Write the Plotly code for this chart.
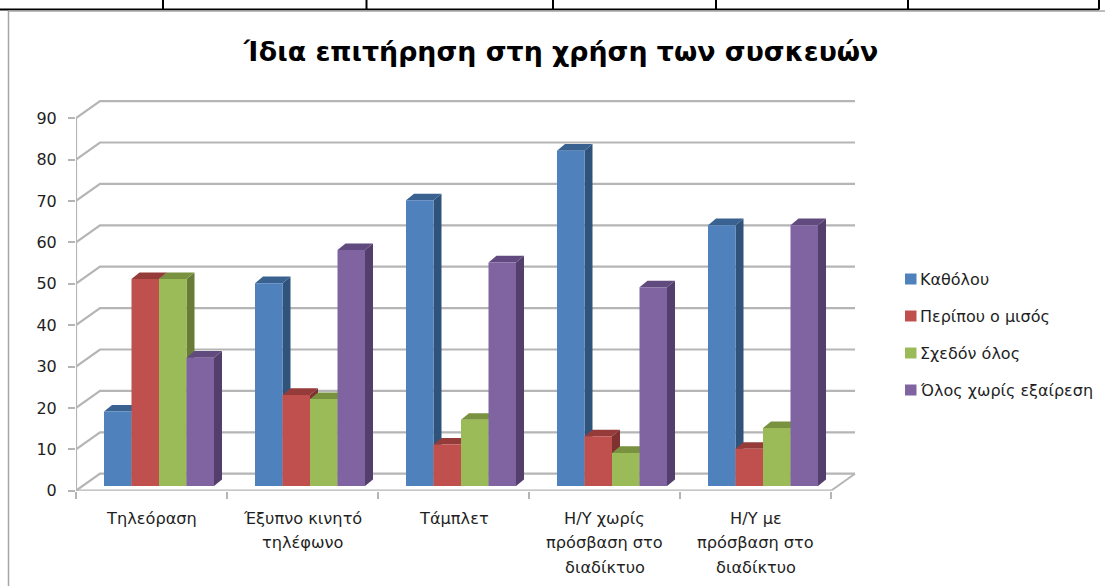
import plotly.graph_objects as go

title = "Ίδια επιτήρηση στη χρήση των συσκευών"
category_lines = [
    ["Τηλεόραση"],
    ["Έξυπνο κινητό", "τηλέφωνο"],
    ["Τάμπλετ"],
    ["Η/Υ χωρίς", "πρόσβαση στο", "διαδίκτυο"],
    ["Η/Υ με", "πρόσβαση στο", "διαδίκτυο"],
]
series_names = ["Καθόλου", "Περίπου ο μισός", "Σχεδόν όλος", "Όλος χωρίς εξαίρεση"]
kath = [18, 49, 69, 81, 63]
misos = [50, 22, 10, 12, 9]
schedon = [50, 21, 16, 8, 14]
olos = [31, 57, 54, 48, 63]
series_values = [kath, misos, schedon, olos]
front_colors = ["#4F81BD", "#C0504D", "#9BBB59", "#8064A2"]
top_colors = ["#3A6291", "#953B39", "#78923F", "#614A7E"]
side_colors = ["#30537C", "#7F312F", "#677D37", "#533E6C"]
y_ticks = list(range(0, 100, 10))

W, H = 1105, 586
X0, X_END, Y0 = 76.0, 856.0, 490.7
PX_CAT, PX_UNIT = 151.0, 4.14
Y_TOP = 100.0
GRID = "#B5B5B5"
FONT = "DejaVu Sans"
TEXT = "#1F1F1F"

# 3D projection offsets expressed in axis units
wall_dx, wall_dy = 24 / PX_CAT, 17 / PX_UNIT
bar_dx, bar_dy = 8 / PX_CAT, 6.6 / PX_UNIT
bar_start, bar_w = 28 / PX_CAT, 27.5 / PX_CAT
floor_y = 4.7 / PX_UNIT
n_cat = len(category_lines)

fig = go.Figure()


def line(xs, ys, width=2.0, color=GRID):
    fig.add_trace(go.Scatter(x=xs, y=ys, mode="lines", cliponaxis=False, hoverinfo="skip",
                             showlegend=False, line=dict(color=color, width=width)))


def poly(xs, ys, color):
    fig.add_trace(go.Scatter(x=xs + xs[:1], y=ys + ys[:1], mode="lines", fill="toself",
                             fillcolor=color, cliponaxis=False, hoverinfo="skip",
                             showlegend=False, line=dict(width=0, color=color)))


# walls and floor
for t in y_ticks:
    line([0, wall_dx, n_cat + wall_dx], [t, t + wall_dy, t + wall_dy], 2.2)
line([0, 0], [0, y_ticks[-1]], 2.2)
line([0, n_cat], [0, 0], 2.2)
line([n_cat, n_cat + wall_dx], [0, wall_dy], 2.0)

# bars, painted left to right
for c in range(n_cat):
    for s, vals in enumerate(series_values):
        x0 = c + bar_start + s * bar_w
        x1 = x0 + bar_w
        top = floor_y + vals[c]
        poly([x1, x1 + bar_dx, x1 + bar_dx, x1],
             [floor_y, floor_y + bar_dy, top + bar_dy, top], side_colors[s])
        poly([x0, x0 + bar_dx, x1 + bar_dx, x1],
             [top, top + bar_dy, top + bar_dy, top], top_colors[s])
        poly([x0, x1, x1, x0], [floor_y, floor_y, top, top], front_colors[s])

ann = []
# category labels, one line at a time for the wide line spacing
for c, lines in enumerate(category_lines):
    for i, txt in enumerate(lines):
        ann.append(dict(x=c + 0.5, xref="x", y=1 - (518 + 24.6 * i) / H, yref="paper",
                        text=txt, showarrow=False, xanchor="center", yanchor="middle",
                        font=dict(family=FONT, size=16.2, color=TEXT)))

shapes = []
# legend
for i, name in enumerate(series_names):
    yc = 279 + 37 * i
    shapes.append(dict(type="rect", xref="paper", yref="paper", x0=905 / W, x1=916.5 / W,
                       y0=1 - (yc - 5.5) / H, y1=1 - (yc + 5.5) / H,
                       fillcolor=front_colors[i], line=dict(width=0)))
    ann.append(dict(x=918 / W, xref="paper", y=1 - yc / H, yref="paper", text=name,
                    showarrow=False, xanchor="left", yanchor="middle",
                    font=dict(family=FONT, size=16, color=TEXT)))

# surrounding page furniture: table rule and chart frame
shapes.append(dict(type="line", xref="paper", yref="paper", x0=0, x1=1099 / W,
                   y0=1 - 9.5 / H, y1=1 - 9.5 / H, line=dict(color="#000000", width=2)))
for px in [163, 366.5, 553, 716, 908, 1099]:
    shapes.append(dict(type="line", xref="paper", yref="paper", x0=px / W, x1=px / W,
                       y0=1, y1=1 - 9.5 / H, line=dict(color="#000000", width=2)))
shapes.append(dict(type="line", xref="paper", yref="paper", x0=8.5 / W, x1=1,
                   y0=1 - 11 / H, y1=1 - 11 / H, line=dict(color="#A6A6A6", width=1.5)))
shapes.append(dict(type="line", xref="paper", yref="paper", x0=8.5 / W, x1=8.5 / W,
                   y0=1 - 11 / H, y1=0, line=dict(color="#A6A6A6", width=1.5)))

fig.update_layout(
    width=W, height=H, margin=dict(l=0, r=0, t=0, b=0), autosize=False,
    paper_bgcolor="white", plot_bgcolor="rgba(0,0,0,0)", showlegend=False,
    title=dict(text="<b>" + title + "</b>", x=561 / W, xanchor="center",
               y=1 - 52 / H, yanchor="middle", automargin=False,
               font=dict(family=FONT, size=26.8, color="#000000")),
    annotations=ann, shapes=shapes,
    xaxis=dict(domain=[X0 / W, X_END / W], range=[0, (X_END - X0) / PX_CAT], automargin=False,
               tickvals=list(range(n_cat + 1)), showticklabels=False, showgrid=False,
               zeroline=False, showline=False, ticks="outside", ticklen=7, tickwidth=1.5,
               tickcolor=GRID),
    yaxis=dict(domain=[1 - Y0 / H, 1 - Y_TOP / H], range=[0, (Y0 - Y_TOP) / PX_UNIT],
               automargin=False,
               tickvals=y_ticks, showgrid=False, zeroline=False, showline=False,
               ticks="outside", ticklen=7, tickwidth=1.5, tickcolor=GRID, ticklabelstandoff=8,
               tickfont=dict(family=FONT, size=16, color=TEXT)),
)

fig.write_html("out.html", config={"displayModeBar": False},
               post_script="document.body.style.margin='0';document.body.style.overflow='hidden';")
